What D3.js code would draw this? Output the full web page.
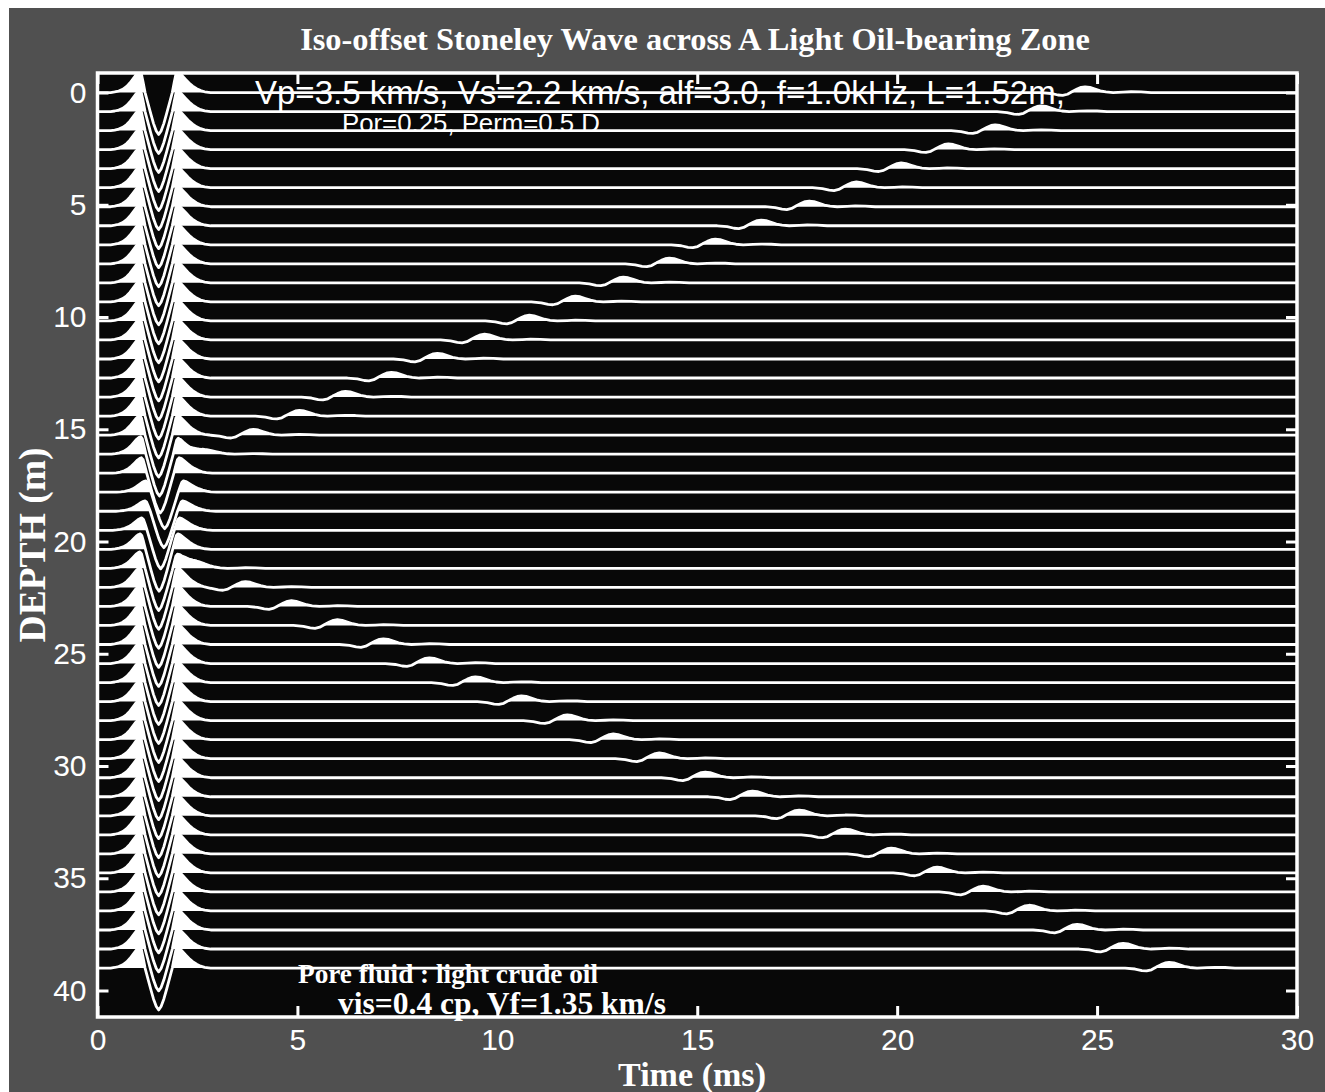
<!DOCTYPE html>
<html>
<head>
<meta charset="utf-8">
<script src="https://cdn.jsdelivr.net/npm/d3@7"></script>
<style>
  html, body { margin: 0; padding: 0; background: #ffffff; }
  svg { display: block; }
</style>
</head>
<body>
<script>
// ---------- data ----------
// receiver depths of the 47 iso-offset traces (m)
const traceDepths = [0, 0.848, 1.696, 2.543, 3.391, 4.239, 5.087, 5.935, 6.783, 7.630,
  8.478, 9.326, 10.174, 11.022, 11.870, 12.717, 13.565, 14.413, 15.261, 16.109,
  16.957, 17.804, 18.652, 19.500, 20.348, 21.196, 22.043, 22.891, 23.739, 24.587,
  25.435, 26.283, 27.130, 27.978, 28.826, 29.674, 30.522, 31.370, 32.217, 33.065,
  33.913, 34.761, 35.609, 36.457, 37.304, 38.152, 39.000];

// direct Stoneley arrival for each trace: trough time (ms),
// trough scale and side-lobe scale (1 = undisturbed wave outside the oil zone)
const directTime = [1.53, 1.53, 1.53, 1.53, 1.53, 1.53, 1.53, 1.53, 1.53, 1.53,
  1.53, 1.53, 1.53, 1.53, 1.53, 1.53, 1.53, 1.53, 1.53, 1.55,
  1.57, 1.68, 1.66, 1.58, 1.54, 1.53, 1.53, 1.53, 1.53, 1.53,
  1.53, 1.53, 1.53, 1.53, 1.53, 1.53, 1.53, 1.53, 1.53, 1.53,
  1.53, 1.53, 1.53, 1.53, 1.53, 1.53, 1.53];
const troughAmp = [1, 1, 1, 1, 1, 1, 1, 1, 1, 1,
  1, 1, 1, 1, 1, 1, 1, 1, 1, 1,
  0.95, 0.87, 0.87, 0.92, 1, 1, 1, 1, 1, 1,
  1, 1, 1, 1, 1, 1, 1, 1, 1, 1,
  1, 1, 1, 1, 1, 1, 1];
const lobeAmp = [1, 1, 1, 1, 1, 1, 1, 1, 1, 1,
  1, 1, 1, 1, 1, 1, 1, 1, 0.95, 0.85,
  0.75, 0.55, 0.5, 0.6, 0.75, 0.8, 0.95, 1, 1, 1,
  1, 1, 1, 1, 1, 1, 1, 1, 1, 1,
  1, 1, 1, 1, 1, 1, 1];

// reflected Stoneley arrival from the oil zone: peak time (ms) and amplitude (null: none)
const reflTime = [24.7, 23.6, 22.45, 21.28, 20.1, 18.98, 17.8, 16.6, 15.45, 14.3,
  13.15, 11.95, 10.8, 9.68, 8.5, 7.35, 6.2, 5.05, 3.9, 2.73,
  null, null, null, null, null, 2.55, 3.7, 4.85, 6.0, 7.15,
  8.3, 9.45, 10.6, 11.75, 12.9, 14.05, 15.2, 16.38, 17.55, 18.7,
  19.85, 21.0, 22.15, 23.3, 24.5, 25.65, 26.8];
const reflAmp = [1, 1, 1, 1, 1, 1, 1, 1, 1, 1,
  1, 1, 1, 1, 1, 1, 1, 1, 1, 0.7,
  0, 0, 0, 0, 0, 0.8, 1, 1, 1, 1,
  1, 1, 1, 1, 1, 1, 1, 1, 1, 1,
  1, 1, 1, 1, 1, 1, 1];

// direct pulse shape: [time relative to trough (ms), amplitude in trace spacings, up positive]
const directPulse = [[-1.20, 0], [-1.10, 0.03], [-1.00, 0.08], [-0.90, 0.17], [-0.80, 0.32],
  [-0.72, 0.50], [-0.64, 0.72], [-0.57, 0.92], [-0.51, 1.04], [-0.47, 1.08], [-0.43, 0.95],
  [-0.39, 0.55], [-0.34, 0], [-0.27, -0.55], [-0.20, -1.10], [-0.13, -1.62], [-0.06, -2.02],
  [0, -2.20], [0.06, -2.02], [0.13, -1.62], [0.20, -1.10], [0.27, -0.55], [0.34, 0],
  [0.39, 0.55], [0.43, 0.95], [0.47, 1.08], [0.53, 1.02], [0.60, 0.86], [0.68, 0.68],
  [0.76, 0.50], [0.85, 0.34], [0.95, 0.20], [1.05, 0.10], [1.15, 0.04], [1.30, 0]];

// reflected pulse shape: [time relative to its peak (ms), amplitude in trace spacings]
const reflPulse = [[-1.10, 0], [-0.85, -0.05], [-0.68, -0.13], [-0.56, -0.15], [-0.44, -0.09],
  [-0.32, 0.05], [-0.20, 0.18], [-0.10, 0.27], [0, 0.30], [0.12, 0.27], [0.25, 0.18],
  [0.38, 0.09], [0.52, 0.03], [0.70, 0], [0.95, 0.02], [1.15, 0.04], [1.40, 0.03], [1.65, 0]];

const depthTicks = [0, 5, 10, 15, 20, 25, 30, 35, 40];
const timeTicks = [0, 5, 10, 15, 20, 25, 30];

const titleText = "Iso-offset Stoneley Wave across A Light Oil-bearing Zone";
const paramLine1 = "Vp=3.5 km/s, Vs=2.2 km/s, alf=3.0, f=1.0kHz, L=1.52m,";
const paramLine2 = "Por=0.25, Perm=0.5 D";
const fluidLine1 = "Pore fluid : light crude oil";
const fluidLine2 = "vis=0.4 cp, Vf=1.35 km/s";
const xLabel = "Time (ms)";
const yLabel = "DEPTH (m)";

// ---------- layout ----------
const W = 1325, H = 1092;
const frame = { left: 97.5, right: 1297, top: 73, bottom: 1017 };
const timeDomain = [0, 30];
const depthDomain = [-0.87, 41.18];
const gain = 39 / 46;           // one trace spacing in metres of depth
const ink = "#ffffff";
const serif = "'Liberation Serif', 'Times New Roman', serif";
const sans = "'Liberation Sans', Arial, Helvetica, sans-serif";

const x = d3.scaleLinear().domain(timeDomain).range([frame.left, frame.right]);
const y = d3.scaleLinear().domain(depthDomain).range([frame.top, frame.bottom]);

const svg = d3.select("body").append("svg")
  .attr("width", W).attr("height", H)
  .attr("viewBox", `0 0 ${W} ${H}`);

// page background
svg.append("rect").attr("width", W).attr("height", H).attr("fill", "#505050");
svg.append("rect").attr("width", W).attr("height", 8).attr("fill", "#ffffff");
svg.append("rect").attr("width", 9).attr("height", H).attr("fill", "#ffffff");

// plotting area
svg.append("rect")
  .attr("x", frame.left).attr("y", frame.top)
  .attr("width", frame.right - frame.left).attr("height", frame.bottom - frame.top)
  .attr("fill", "#080808");

svg.append("clipPath").attr("id", "plot-clip")
  .append("rect")
  .attr("x", frame.left).attr("y", frame.top)
  .attr("width", frame.right - frame.left).attr("height", frame.bottom - frame.top);

// ---------- traces ----------
function pulseAt(pulse, tau) {
  if (tau <= pulse[0][0] || tau >= pulse[pulse.length - 1][0]) return 0;
  for (let k = 1; k < pulse.length; k++) {
    if (tau <= pulse[k][0]) {
      const [t0, a0] = pulse[k - 1], [t1, a1] = pulse[k];
      return a0 + (a1 - a0) * (tau - t0) / (t1 - t0);
    }
  }
  return 0;
}

function traceSamples(i) {
  const direct = tau => {
    const v = pulseAt(directPulse, tau);
    return v < 0 ? v * troughAmp[i] : v * lobeAmp[i];
  };
  const parts = [{ pulse: directPulse, t: directTime[i], f: direct }];
  if (reflTime[i] !== null && reflAmp[i] > 0) {
    parts.push({ pulse: reflPulse, t: reflTime[i], f: tau => reflAmp[i] * pulseAt(reflPulse, tau) });
  }
  const knots = new Set([timeDomain[0], timeDomain[1]]);
  parts.forEach(p => p.pulse.forEach(([tau]) => knots.add(+(p.t + tau).toFixed(4))));
  const ts = Array.from(knots).filter(t => t >= timeDomain[0] && t <= timeDomain[1]).sort((a, b) => a - b);
  const pts = ts.map(t => ({ t, v: d3.sum(parts, p => p.f(t - p.t)) }));
  // add zero crossings so the filled lobes meet the baseline cleanly
  const out = [pts[0]];
  for (let k = 1; k < pts.length; k++) {
    const p0 = pts[k - 1], p1 = pts[k];
    if ((p0.v > 0 && p1.v < 0) || (p0.v < 0 && p1.v > 0)) {
      const f = p0.v / (p0.v - p1.v);
      out.push({ t: p0.t + f * (p1.t - p0.t), v: 0 });
    }
    out.push(p1);
  }
  return out;
}

const plot = svg.append("g").attr("clip-path", "url(#plot-clip)");

traceDepths.forEach((depth, i) => {
  const samples = traceSamples(i);
  const g = plot.append("g").attr("class", "trace");
  // variable-area fill of the positive lobes
  g.append("path")
    .datum(samples)
    .attr("fill", ink)
    .attr("d", d3.area()
      .x(d => x(d.t))
      .y0(y(depth))
      .y1(d => y(depth - Math.max(d.v, 0) * gain)));
  // wiggle line
  g.append("path")
    .datum(samples)
    .attr("fill", "none")
    .attr("stroke", ink)
    .attr("stroke-width", 2.8)
    .attr("stroke-linejoin", "round")
    .attr("d", d3.line()
      .x(d => x(d.t))
      .y(d => y(depth - d.v * gain)));
});

// ---------- frame and axes ----------
svg.append("rect")
  .attr("x", frame.left).attr("y", frame.top)
  .attr("width", frame.right - frame.left).attr("height", frame.bottom - frame.top)
  .attr("fill", "none").attr("stroke", ink).attr("stroke-width", 3.5);

const tickLen = 11;
const axisStyle = g => {
  g.select(".domain").remove();
  g.selectAll(".tick line").attr("stroke", ink).attr("stroke-width", 3);
  g.selectAll(".tick text").attr("fill", ink)
    .attr("font-family", sans).attr("font-size", 30);
};

svg.append("g").attr("transform", `translate(0,${frame.bottom})`)
  .call(d3.axisBottom(x).tickValues(timeTicks).tickFormat(d3.format("d"))
    .tickSizeInner(-tickLen).tickSizeOuter(0).tickPadding(12))
  .call(axisStyle)
  .call(g => g.selectAll(".tick text").attr("dy", "0.71em"));

svg.append("g").attr("transform", `translate(0,${frame.top})`)
  .call(d3.axisTop(x).tickValues(timeTicks).tickFormat("")
    .tickSizeInner(-tickLen).tickSizeOuter(0))
  .call(axisStyle);

svg.append("g").attr("transform", `translate(${frame.left},0)`)
  .call(d3.axisLeft(y).tickValues(depthTicks).tickFormat(d3.format("d"))
    .tickSizeInner(-tickLen).tickSizeOuter(0).tickPadding(11))
  .call(axisStyle);

svg.append("g").attr("transform", `translate(${frame.right},0)`)
  .call(d3.axisRight(y).tickValues(depthTicks).tickFormat("")
    .tickSizeInner(-tickLen).tickSizeOuter(0))
  .call(axisStyle);

// ---------- text ----------
function fitWidth(sel, width) {
  const fs = parseFloat(sel.attr("font-size"));
  const len = sel.node().getComputedTextLength();
  sel.attr("font-size", (fs * width / len).toFixed(2));
  return sel;
}

fitWidth(svg.append("text").text(titleText)
  .attr("x", 695).attr("y", 50).attr("text-anchor", "middle")
  .attr("font-family", serif).attr("font-weight", "bold").attr("font-size", 28)
  .attr("fill", ink), 790);

fitWidth(svg.append("text").text(xLabel)
  .attr("x", 692).attr("y", 1086).attr("text-anchor", "middle")
  .attr("font-family", serif).attr("font-weight", "bold").attr("font-size", 27)
  .attr("fill", ink), 148);

fitWidth(svg.append("text").text(yLabel)
  .attr("transform", "translate(45,545) rotate(-90)").attr("text-anchor", "middle")
  .attr("font-family", serif).attr("font-weight", "bold").attr("font-size", 28)
  .attr("fill", ink), 195);

fitWidth(svg.append("text").text(paramLine1)
  .attr("x", 255).attr("y", 104)
  .attr("font-family", sans).attr("font-size", 28).attr("fill", ink), 810);

fitWidth(svg.append("text").text(paramLine2)
  .attr("x", 342).attr("y", 131.5)
  .attr("font-family", sans).attr("font-size", 22).attr("fill", ink), 258);

fitWidth(svg.append("text").text(fluidLine1)
  .attr("x", 298).attr("y", 983)
  .attr("font-family", serif).attr("font-weight", "bold").attr("font-size", 22)
  .attr("fill", ink), 300);

fitWidth(svg.append("text").text(fluidLine2)
  .attr("x", 338).attr("y", 1014)
  .attr("font-family", serif).attr("font-weight", "bold").attr("font-size", 25)
  .attr("fill", ink), 328);
</script>
</body>
</html>
